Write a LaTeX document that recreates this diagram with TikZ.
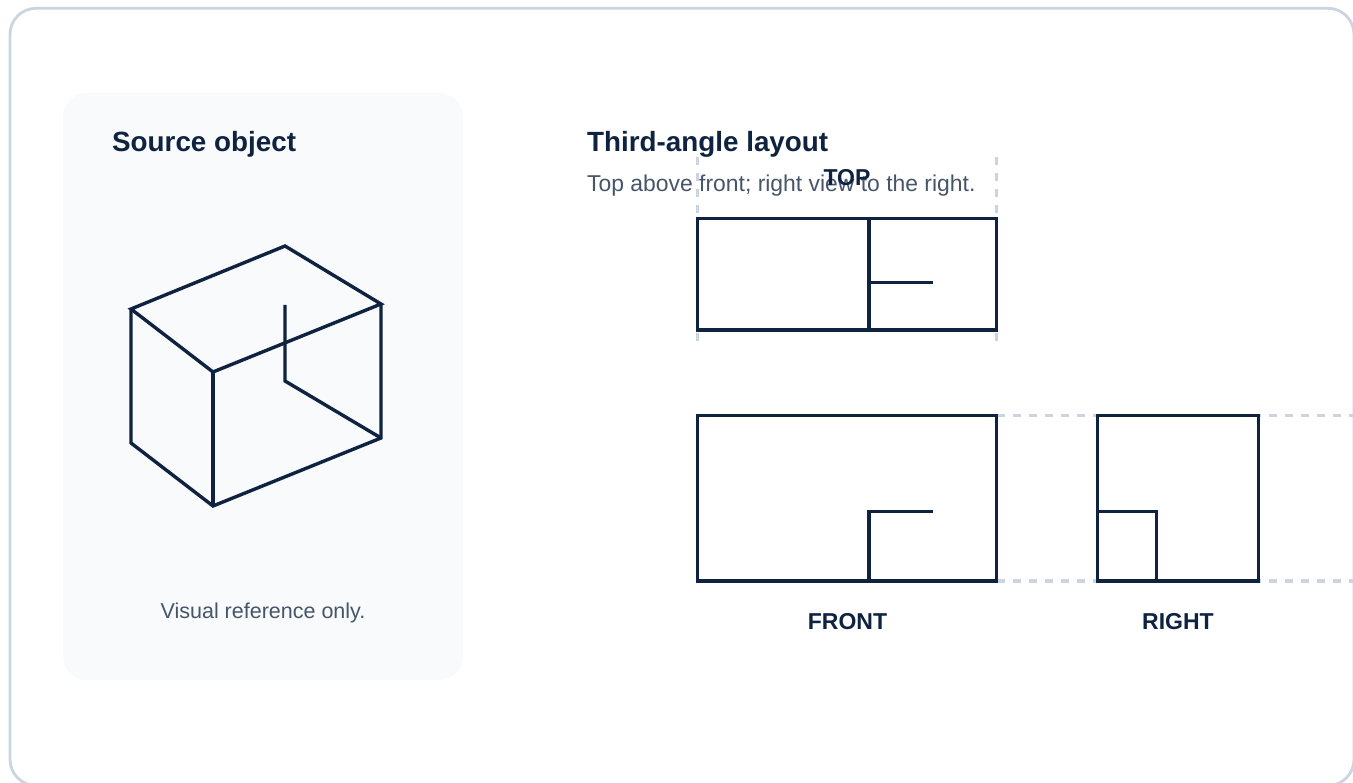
\documentclass[tikz,border=0pt]{standalone}
\usepackage{fontspec}
\setmainfont{Liberation Sans}
\definecolor{ink}{HTML}{0F2340}
\definecolor{muted}{HTML}{475569}
\definecolor{rulec}{HTML}{CBD5E1}
\definecolor{panel}{HTML}{F8FAFC}
\tikzset{
  x=1pt,y=-1pt,
  titletext/.style={anchor=base west,inner sep=0pt,font=\fontsize{27.8}{32}\selectfont\bfseries,text=ink},
  bodytext/.style={anchor=base,inner sep=0pt,font=\fontsize{21.5}{26}\selectfont,text=muted},
  viewlabel/.style={anchor=base,inner sep=0pt,font=\fontsize{23}{27}\selectfont\bfseries,text=ink},
  objline/.style={draw=ink,line width=3.4pt,line join=miter},
  projline/.style={draw=rulec,line width=3.4pt,dash pattern=on 8pt off 8pt},
}
\begin{document}
\begin{tikzpicture}
\useasboundingbox (0,0) rectangle (1353,783);
\fill[white] (0,0) rectangle (1353,783);
\begin{scope}
\clip (0,0) rectangle (1353,783);
\draw[rulec,line width=2.8pt,rounded corners=26pt] (10,8.3) rectangle (1354,785.5);
\end{scope}
\fill[panel,rounded corners=24pt] (63,93) rectangle (463,680);
\node[titletext] (srctitle) at (112,152) {Source object};
\node[bodytext] (srcnote) at (263,618) {Visual reference only.};
% isometric object
\draw[objline] (131,309) -- (285,246) -- (381,304) -- (213,372) -- cycle;
\draw[objline] (131,309) -- (131,443) -- (213,506) -- (381,438) -- (381,304);
\draw[objline] (213,372) -- (213,506);
\draw[objline] (285,305) -- (285,381) -- (381,438);
% layout
\node[titletext] (laytitle) at (587,152) {Third-angle layout};
\node[bodytext,font=\fontsize{22.9}{27}\selectfont,anchor=base west] (laynote) at (587,192) {Top above front; right view to the right.};
\draw[projline] (697.7,157) -- (697.7,341);
\draw[projline] (996.7,157) -- (996.7,341);
\draw[projline] (997,415.3) -- (1353,415.3);
\draw[projline] (997,581) -- (1353,581);
% top view
\draw[objline] (697.7,218.3) rectangle (996.7,330);
\draw[objline] (869,218.3) -- (869,330);
\draw[objline] (869,282.5) -- (932.7,282.5);
% front view
\draw[objline] (697.7,415.3) rectangle (996.7,581);
\draw[objline] (869,581) -- (869,511.5) -- (932.7,511.5);
% right view
\draw[objline] (1097.7,415.3) rectangle (1258.3,581);
\draw[objline] (1097.7,511.5) -- (1156.7,511.5) -- (1156.7,581);
\node[viewlabel] (toplab) at (847,185.5) {TOP};
\node[viewlabel] (frontlab) at (847.5,629) {FRONT};
\node[viewlabel] (rightlab) at (1178,629) {RIGHT};
\end{tikzpicture}
\end{document}
